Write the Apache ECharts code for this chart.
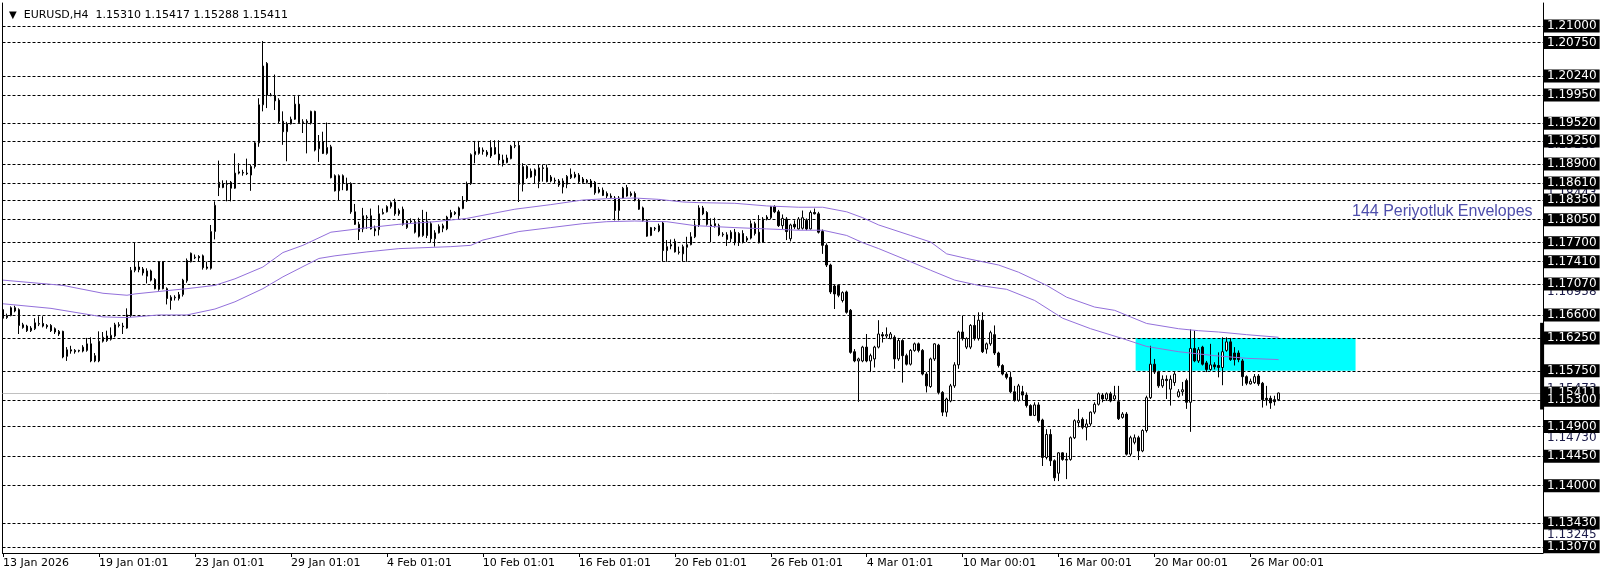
<!DOCTYPE html>
<html>
<head>
<meta charset="utf-8">
<script src="https://cdn.jsdelivr.net/npm/echarts@6/dist/echarts.min.js"></script>
<style>html,body{margin:0;padding:0;background:#fff}#c{width:1606px;height:577px}</style>
</head>
<body>
<div id="c"></div>
<script>
// ---- time axis labels (bar index of each label, every 24 H4 bars) ----
const tickIdx = [0,24,48,72,96,120,144,168,192,216,240,264,288,312];
const tickLabels = ['13 Jan 2026','19 Jan 01:01','23 Jan 01:01','29 Jan 01:01','4 Feb 01:01','10 Feb 01:01','16 Feb 01:01','20 Feb 01:01','26 Feb 01:01','4 Mar 01:01','10 Mar 00:01','16 Mar 00:01','20 Mar 00:01','26 Mar 00:01'];

// ---- EURUSD H4 candles (bar 0 .. 319) ----
const opens = [
1.1668,1.1656,1.1659,1.1671,1.1668,1.1645,1.1643,1.1636,1.1639,1.1646,
1.1647,1.1644,1.1644,1.1639,1.1631,1.1635,1.1597,1.1605,1.1606,1.1605,
1.1605,1.1606,1.1616,1.1590,1.1590,1.1620,1.1621,1.1623,1.1628,1.1645,
1.1643,1.1640,1.1659,1.1728,1.1733,1.1730,1.1719,1.1727,1.1714,1.1699,
1.1741,1.1700,1.1682,1.1686,1.1685,1.1691,1.1712,1.1741,1.1748,1.1749,
1.1750,1.1731,1.1731,1.1787,1.1862,1.1854,1.1860,1.1862,1.1853,1.1876,
1.1877,1.1876,1.1873,1.1886,1.1922,1.1980,1.2043,1.1995,1.1994,1.1987,
1.1955,1.1939,1.1951,1.1958,1.1981,1.1954,1.1955,1.1952,1.1970,1.1913,
1.1924,1.1906,1.1916,1.1872,1.1849,1.1872,1.1850,1.1860,1.1817,1.1798,
1.1791,1.1808,1.1811,1.1791,1.1790,1.1814,1.1817,1.1825,1.1832,1.1814,
1.1821,1.1793,1.1803,1.1802,1.1803,1.1781,1.1803,1.1799,1.1776,1.1785,
1.1792,1.1791,1.1809,1.1816,1.1811,1.1822,1.1834,1.1860,1.1904,1.1906,
1.1911,1.1908,1.1902,1.1915,1.1905,1.1896,1.1892,1.1898,1.1917,1.1918,
1.1859,1.1886,1.1870,1.1872,1.1863,1.1884,1.1884,1.1864,1.1865,1.1864,
1.1864,1.1859,1.1869,1.1874,1.1873,1.1867,1.1865,1.1864,1.1862,1.1847,
1.1850,1.1845,1.1841,1.1838,1.1819,1.1838,1.1854,1.1842,1.1845,1.1835,
1.1823,1.1804,1.1781,1.1791,1.1788,1.1800,1.1758,1.1765,1.1772,1.1755,
1.1753,1.1763,1.1767,1.1779,1.1797,1.1823,1.1816,1.1797,1.1799,1.1796,
1.1782,1.1782,1.1776,1.1786,1.1771,1.1784,1.1774,1.1777,1.1799,1.1786,
1.1771,1.1806,1.1808,1.1825,1.1817,1.1796,1.1806,1.1776,1.1798,1.1791,
1.1792,1.1804,1.1791,1.1816,1.1814,1.1787,1.1766,1.1736,1.1704,1.1705,
1.1682,1.1695,1.1667,1.1604,1.1590,1.1590,1.1611,1.1590,1.1593,1.1611,
1.1630,1.1628,1.1624,1.1626,1.1593,1.1621,1.1598,1.1585,1.1606,1.1616,
1.1606,1.1570,1.1551,1.1593,1.1614,1.1542,1.1512,1.1529,1.1552,1.1584,
1.1634,1.1611,1.1611,1.1644,1.1624,1.1652,1.1608,1.1616,1.1630,1.1602,
1.1583,1.1570,1.1565,1.1543,1.1530,1.1543,1.1538,1.1522,1.1507,1.1523,
1.1500,1.1443,1.1478,1.1438,1.1419,1.1450,1.1440,1.1440,1.1473,1.1496,
1.1501,1.1489,1.1494,1.1512,1.1524,1.1538,1.1532,1.1540,1.1532,1.1528,
1.1504,1.1509,1.1448,1.1466,1.1473,1.1453,1.1484,1.1534,1.1585,1.1573,
1.1552,1.1562,1.1547,1.1557,1.1536,1.1543,1.1560,1.1527,1.1609,1.1590,
1.1611,1.1587,1.1577,1.1584,1.1583,1.1580,1.1606,1.1619,1.1602,1.1602,
1.1590,1.1566,1.1555,1.1557,1.1567,1.1556,1.1533,1.1533,1.1531,1.15310
];
const closes = [
1.1655,1.1659,1.1671,1.1666,1.1644,1.1641,1.1636,1.1640,1.1648,1.1647,
1.1643,1.1642,1.1636,1.1634,1.1635,1.1596,1.1607,1.1607,1.1604,1.1606,
1.1611,1.1616,1.1590,1.1598,1.1620,1.1626,1.1628,1.1629,1.1645,1.1644,
1.1642,1.1660,1.1728,1.1733,1.1729,1.1724,1.1727,1.1713,1.1700,1.1741,
1.1700,1.1685,1.1687,1.1687,1.1691,1.1713,1.1743,1.1754,1.1747,1.1747,
1.1732,1.1733,1.1787,1.1827,1.1854,1.1860,1.1859,1.1853,1.1876,1.1878,
1.1876,1.1875,1.1886,1.1922,1.1980,1.2039,1.1995,1.1994,1.1986,1.1955,
1.1939,1.1951,1.1958,1.1981,1.1953,1.1953,1.1953,1.1970,1.1911,1.1924,
1.1906,1.1915,1.1869,1.1849,1.1872,1.1860,1.1860,1.1817,1.1798,1.1787,
1.1811,1.1809,1.1791,1.1788,1.1814,1.1816,1.1825,1.1831,1.1814,1.1819,
1.1798,1.1803,1.1802,1.1786,1.1780,1.1803,1.1781,1.1776,1.1785,1.1795,
1.1796,1.1809,1.1816,1.1814,1.1823,1.1834,1.1860,1.1904,1.1909,1.1915,
1.1909,1.1904,1.1915,1.1905,1.1896,1.1891,1.1899,1.1917,1.1918,1.1859,
1.1886,1.1869,1.1879,1.1881,1.1884,1.1883,1.1863,1.1870,1.1864,1.1858,
1.1855,1.1871,1.1874,1.1870,1.1863,1.1862,1.1862,1.1855,1.1846,1.1851,
1.1842,1.1841,1.1839,1.1819,1.1838,1.1853,1.1841,1.1845,1.1835,1.1821,
1.1804,1.1780,1.1793,1.1792,1.1796,1.1758,1.1764,1.1767,1.1756,1.1756,
1.1764,1.1767,1.1779,1.1797,1.1823,1.1814,1.1798,1.1795,1.1796,1.1782,
1.1783,1.1775,1.1786,1.1770,1.1784,1.1771,1.1777,1.1799,1.1784,1.1770,
1.1806,1.1809,1.1825,1.1817,1.1796,1.1807,1.1787,1.1797,1.1794,1.1806,
1.1808,1.1791,1.1816,1.1814,1.1786,1.1766,1.1736,1.1695,1.1692,1.1690,
1.1694,1.1664,1.1603,1.1590,1.1593,1.1611,1.1590,1.1598,1.1611,1.1631,
1.1628,1.1630,1.1631,1.1593,1.1621,1.1598,1.1585,1.1606,1.1616,1.1606,
1.1570,1.1552,1.1593,1.1616,1.1542,1.1512,1.1532,1.1552,1.1584,1.1634,
1.1624,1.1624,1.1644,1.1624,1.1652,1.1604,1.1616,1.1633,1.1602,1.1583,
1.1570,1.1565,1.1543,1.1530,1.1552,1.1538,1.1522,1.1507,1.1523,1.1499,
1.1443,1.1478,1.1438,1.1412,1.1450,1.1440,1.1439,1.1473,1.1499,1.1499,
1.1489,1.1494,1.1512,1.1524,1.1540,1.1532,1.1540,1.1529,1.1537,1.1502,
1.1509,1.1448,1.1473,1.1473,1.1453,1.1484,1.1534,1.1585,1.1573,1.1552,
1.1562,1.1560,1.1562,1.1570,1.1543,1.1546,1.1527,1.1609,1.1590,1.1607,
1.1585,1.1577,1.1584,1.1581,1.1580,1.1604,1.1619,1.1592,1.1592,1.1592,
1.1566,1.1556,1.1559,1.1566,1.1555,1.1531,1.1531,1.1526,1.1528,1.15411
];
const lows = [
1.1653,1.1654,1.1658,1.1664,1.1631,1.1639,1.1634,1.1634,1.1637,1.1643,
1.1641,1.1639,1.1634,1.1631,1.1628,1.1594,1.1590,1.1601,1.1601,1.1603,
1.1603,1.1604,1.1588,1.1588,1.1588,1.1618,1.1619,1.1621,1.1626,1.1641,
1.1631,1.1639,1.1657,1.1725,1.1725,1.1720,1.1708,1.1711,1.1699,1.1697,
1.1699,1.1676,1.1668,1.1682,1.1682,1.1688,1.1709,1.1740,1.1745,1.1741,
1.1729,1.1729,1.1729,1.1775,1.1841,1.1853,1.1833,1.1833,1.1852,1.1874,
1.1872,1.1873,1.1849,1.1883,1.1916,1.1970,1.1975,1.1993,1.1972,1.1952,
1.1919,1.1894,1.1950,1.1957,1.1952,1.1937,1.1906,1.1950,1.1909,1.1893,
1.1905,1.1904,1.1868,1.1848,1.1835,1.1850,1.1849,1.1814,1.1797,1.1774,
1.1786,1.1791,1.1790,1.1780,1.1781,1.1813,1.1816,1.1822,1.1811,1.1811,
1.1796,1.1791,1.1799,1.1784,1.1778,1.1779,1.1777,1.1770,1.1764,1.1784,
1.1786,1.1789,1.1807,1.1812,1.1806,1.1821,1.1832,1.1858,1.1891,1.1904,
1.1904,1.1901,1.1899,1.1904,1.1888,1.1886,1.1891,1.1897,1.1914,1.1832,
1.1848,1.1867,1.1869,1.1860,1.1853,1.1863,1.1862,1.1862,1.1860,1.1855,
1.1845,1.1853,1.1867,1.1868,1.1860,1.1860,1.1860,1.1854,1.1843,1.1845,
1.1841,1.1838,1.1837,1.1804,1.1804,1.1837,1.1840,1.1840,1.1833,1.1820,
1.1802,1.1779,1.1780,1.1788,1.1786,1.1741,1.1741,1.1760,1.1755,1.1752,
1.1741,1.1741,1.1766,1.1777,1.1794,1.1812,1.1796,1.1771,1.1793,1.1780,
1.1779,1.1765,1.1771,1.1766,1.1765,1.1769,1.1771,1.1775,1.1781,1.1769,
1.1770,1.1804,1.1806,1.1815,1.1794,1.1791,1.1774,1.1772,1.1791,1.1790,
1.1790,1.1789,1.1790,1.1813,1.1784,1.1753,1.1733,1.1692,1.1669,1.1687,
1.1679,1.1662,1.1601,1.1588,1.1528,1.1588,1.1588,1.1573,1.1580,1.1609,
1.1618,1.1624,1.1623,1.1578,1.1590,1.1557,1.1583,1.1583,1.1604,1.1603,
1.1568,1.1542,1.1549,1.1590,1.1539,1.1506,1.1505,1.1527,1.1549,1.1578,
1.1621,1.1608,1.1608,1.1621,1.1621,1.1602,1.1601,1.1613,1.1599,1.1580,
1.1568,1.1562,1.1541,1.1528,1.1528,1.1530,1.1519,1.1506,1.1506,1.1496,
1.1430,1.1440,1.1430,1.1407,1.1407,1.1438,1.1410,1.1438,1.1471,1.1489,
1.1486,1.1469,1.1491,1.1509,1.1522,1.1527,1.1529,1.1527,1.1529,1.1500,
1.1502,1.1446,1.1445,1.1463,1.1439,1.1451,1.1481,1.1532,1.1570,1.1549,
1.1549,1.1532,1.1522,1.1552,1.1534,1.1537,1.1517,1.1482,1.1588,1.1587,
1.1583,1.1573,1.1575,1.1577,1.1565,1.1553,1.1604,1.1590,1.1583,1.1588,
1.1552,1.1553,1.1554,1.1555,1.1552,1.1519,1.1522,1.1517,1.1522,1.15288
];
const highs = [
1.1672,1.1662,1.1673,1.1674,1.1670,1.1648,1.1645,1.1643,1.1655,1.1658,
1.1658,1.1646,1.1646,1.1641,1.1637,1.1636,1.1611,1.1613,1.1608,1.1607,
1.1614,1.1625,1.1626,1.1602,1.1635,1.1634,1.1636,1.1641,1.1648,1.1649,
1.1648,1.1670,1.1733,1.1770,1.1741,1.1733,1.1731,1.1729,1.1716,1.1742,
1.1742,1.1702,1.1690,1.1690,1.1695,1.1715,1.1746,1.1755,1.1752,1.1751,
1.1752,1.1741,1.1797,1.1833,1.1895,1.1865,1.1865,1.1864,1.1906,1.1891,
1.1881,1.1898,1.1889,1.1924,1.1990,1.2077,1.2045,1.1998,1.2026,1.1990,
1.1970,1.1954,1.1962,1.1993,1.1995,1.1958,1.1958,1.1971,1.1971,1.1934,
1.1939,1.1953,1.1919,1.1874,1.1874,1.1874,1.1869,1.1862,1.1829,1.1802,
1.1823,1.1812,1.1822,1.1796,1.1827,1.1822,1.1827,1.1833,1.1837,1.1822,
1.1825,1.1804,1.1807,1.1806,1.1808,1.1820,1.1817,1.1802,1.1789,1.1798,
1.1799,1.1811,1.1820,1.1818,1.1825,1.1841,1.1863,1.1906,1.1925,1.1925,
1.1915,1.1911,1.1926,1.1926,1.1926,1.1904,1.1904,1.1919,1.1924,1.1925,
1.1891,1.1888,1.1883,1.1883,1.1889,1.1889,1.1889,1.1873,1.1869,1.1867,
1.1868,1.1873,1.1883,1.1878,1.1876,1.1870,1.1867,1.1867,1.1864,1.1855,
1.1854,1.1848,1.1845,1.1841,1.1841,1.1855,1.1858,1.1848,1.1848,1.1837,
1.1825,1.1806,1.1794,1.1794,1.1799,1.1802,1.1774,1.1775,1.1776,1.1764,
1.1767,1.1779,1.1786,1.1804,1.1827,1.1826,1.1818,1.1807,1.1808,1.1799,
1.1786,1.1786,1.1789,1.1791,1.1786,1.1789,1.1780,1.1804,1.1802,1.1812,
1.1809,1.1812,1.1826,1.1827,1.1820,1.1813,1.1809,1.1799,1.1804,1.1809,
1.1819,1.1807,1.1819,1.1822,1.1817,1.1790,1.1769,1.1738,1.1706,1.1707,
1.1696,1.1697,1.1669,1.1608,1.1595,1.1613,1.1631,1.1601,1.1613,1.1652,
1.1634,1.1641,1.1634,1.1629,1.1625,1.1623,1.1601,1.1608,1.1618,1.1618,
1.1608,1.1573,1.1595,1.1617,1.1616,1.1544,1.1534,1.1555,1.1588,1.1636,
1.1659,1.1626,1.1646,1.1659,1.1664,1.1664,1.1618,1.1636,1.1644,1.1604,
1.1585,1.1573,1.1573,1.1552,1.1555,1.1552,1.1542,1.1524,1.1527,1.1527,
1.1502,1.1486,1.1486,1.1440,1.1451,1.1451,1.1450,1.1475,1.1501,1.1517,
1.1504,1.1501,1.1513,1.1527,1.1542,1.1541,1.1542,1.1543,1.1552,1.1552,
1.1512,1.1512,1.1476,1.1478,1.1476,1.1486,1.1537,1.1613,1.1593,1.1575,
1.1568,1.1568,1.1568,1.1573,1.1547,1.1558,1.1563,1.1638,1.1636,1.1611,
1.1613,1.1590,1.1616,1.1588,1.1603,1.1626,1.1626,1.1625,1.1611,1.1606,
1.1593,1.1568,1.1563,1.1570,1.1570,1.1558,1.1552,1.1537,1.1537,1.15417
];

// ---- 144-period Envelopes (read at selected bars) ----
const envUpperIdx = [0,15,25,31,33,41,46,53,58,65,70,75,82,90,99,108,116,128,137,145,151,158,164,170,174,183,191,199,205,211,215,219,227,232,236,241,249,254,261,266,273,278,282,286,294,299,304,311,319];
const envUpper = [1.1713,1.1705,1.1693,1.1690,1.1692,1.1697,1.1700,1.1705,1.1715,1.1733,1.1755,1.1766,1.1786,1.1792,1.1798,1.1802,1.1807,1.1821,1.1828,1.1835,1.1837,1.1838,1.1836,1.1832,1.1831,1.1830,1.1826,1.1824,1.1824,1.1817,1.1808,1.1797,1.1781,1.1771,1.1753,1.1746,1.1736,1.1725,1.1705,1.1687,1.1672,1.1667,1.1657,1.1647,1.1639,1.1636,1.1634,1.1630,1.1626];
const envLowerIdx = [0,12,25,31,39,46,53,58,65,70,79,83,91,99,112,117,120,129,137,145,151,158,166,173,183,191,199,205,211,215,219,227,232,238,244,251,258,265,272,280,286,294,303,311,319];
const envLower = [1.1677,1.1670,1.1657,1.1656,1.1660,1.1660,1.1669,1.1680,1.1700,1.1718,1.1746,1.1750,1.1756,1.1761,1.1764,1.1766,1.1774,1.1787,1.1793,1.1799,1.1802,1.1803,1.1802,1.1796,1.1793,1.1791,1.1789,1.1789,1.1781,1.1770,1.1761,1.1741,1.1728,1.1713,1.1705,1.1699,1.1682,1.1655,1.1639,1.1624,1.1612,1.1604,1.1598,1.1594,1.1592];

// ---- horizontal price levels, scale labels, bid, zone ----
const levels = [1.21000,1.20750,1.20240,1.19950,1.19520,1.19250,1.18900,1.18610,1.18350,1.18050,1.17700,1.17410,1.17070,1.16600,1.16250,1.15750,1.15300,1.14900,1.14450,1.14000,1.13430,1.13070];
const scaleLevels = [1.13245,1.13988,1.14730,1.15473,1.16215,1.16958,1.17700,1.18443,1.19185,1.19928];
const bidPrice = 1.15411;
const zoneBars = [283.25, 338.25];
const zonePrices = [1.15750, 1.16250];
const axisMarkBar = 384.9;
const axisMarkPrices = [1.1648, 1.1516];
const headerText = 'EURUSD,H4  1.15310 1.15417 1.15288 1.15411';
const envText = '144 Periyotluk Envelopes';

const X_MIN = -0.125, X_MAX = 385.125;
const Y_MIN = 1.12975, Y_MAX = 1.2135;
const PF = 'DejaVu Sans';

const chart = echarts.init(document.getElementById('c'), null, {renderer: 'canvas'});
const candleRows = opens.map((o, i) => [i, o, closes[i], lows[i], highs[i]]);
const upperPts = envUpperIdx.map((x, k) => [x, envUpper[k]]);
const lowerPts = envLowerIdx.map((x, k) => [x, envLower[k]]);
const axisMarkPts = axisMarkPrices.map(p => [axisMarkBar, p]);

const boxLabel = {
  show: true, position: 'end', distance: 1,
  formatter: p => Number(p.value).toFixed(5),
  color: '#fff', backgroundColor: '#000', padding: [1, 3, 0, 3],
  fontFamily: PF, fontSize: 12, lineHeight: 12
};

const option = {
  animation: false,
  backgroundColor: '#fff',
  title: [
    { text: '{t|▼}  ' + headerText, left: 4, top: 5,
      textStyle: { fontFamily: PF, fontSize: 11, fontWeight: 'normal', color: '#000',
        rich: { t: { fontSize: 10, fontFamily: PF, color: '#000' } } } },
    { text: envText, left: 1347, top: 199,
      textStyle: { fontFamily: 'Liberation Sans', fontSize: 16, fontWeight: 'normal', color: '#4d4dab' } }
  ],
  grid: { left: 2, right: 63, top: 3, bottom: 24, containLabel: false },
  xAxis: {
    type: 'value', min: X_MIN, max: X_MAX,
    axisLine: { show: true, onZero: false, lineStyle: { color: '#000', width: 1 } },
    axisTick: { show: true, customValues: tickIdx, length: 4, lineStyle: { color: '#000' } },
    axisLabel: { show: true, customValues: tickIdx, align: 'left', margin: 5,
      formatter: v => { const k = tickIdx.indexOf(Math.round(v)); return k >= 0 ? tickLabels[k] : ''; },
      fontFamily: PF, fontSize: 11, color: '#000' },
    splitLine: { show: false }
  },
  yAxis: [
    { type: 'value', position: 'right', min: Y_MIN, max: Y_MAX, scale: true,
      axisLine: { show: true, onZero: false, lineStyle: { color: '#000', width: 1 } },
      axisTick: { show: false }, axisLabel: { show: false }, splitLine: { show: false } },
    { type: 'value', position: 'left', min: Y_MIN, max: Y_MAX, scale: true,
      axisLine: { show: true, onZero: false, lineStyle: { color: '#000', width: 1 } },
      axisTick: { show: false }, axisLabel: { show: false }, splitLine: { show: false } }
  ],
  series: [
    { type: 'line', name: 'zone', data: [], z: 1, silent: true,
      markArea: { silent: true, z: 1, itemStyle: { color: '#00FFFF', opacity: 1 },
        data: [[ { xAxis: zoneBars[0], yAxis: zonePrices[1] }, { xAxis: zoneBars[1], yAxis: zonePrices[0] } ]] } },
    { type: 'line', name: 'scale', data: [], z: 1, silent: true,
      markLine: { silent: true, z: 1.6, precision: 5, symbol: ['none', 'none'],
        lineStyle: { color: 'rgba(255,255,255,0)', width: 1, type: 'solid' },
        label: { show: true, position: 'end', distance: 1, formatter: p => Number(p.value).toFixed(5),
          color: '#1a1a48', padding: [1, 3, 0, 3], fontFamily: PF, fontSize: 12, lineHeight: 12 },
        emphasis: { disabled: true },
        data: scaleLevels.map(v => ({ yAxis: v })) } },
    { type: 'line', name: 'bid', data: [], z: 1, silent: true,
      markLine: { silent: true, z: 1.65, precision: 5, symbol: ['none', 'none'],
        lineStyle: { type: 'solid', color: '#C0C0C0', width: 1 },
        label: boxLabel, emphasis: { disabled: true },
        data: [{ yAxis: bidPrice }] } },
    { type: 'line', name: 'levels', data: [], z: 1, silent: true,
      markLine: { silent: true, z: 1.7, precision: 5, symbol: ['none', 'none'],
        lineStyle: { type: [3, 2], color: '#000', width: 1 },
        label: boxLabel, emphasis: { disabled: true },
        data: levels.map(v => ({ yAxis: v })) } },
    { type: 'candlestick', name: 'EURUSD', data: candleRows, z: 3, barWidth: 2,
      itemStyle: { color: '#fff', color0: '#000', borderColor: '#000', borderColor0: '#000', borderWidth: 1 },
      emphasis: { disabled: true } },
    { type: 'line', name: 'envUpper', data: upperPts, z: 4, symbol: 'none', silent: true,
      lineStyle: { color: '#9370DB', width: 1 } },
    { type: 'line', name: 'envLower', data: lowerPts, z: 4, symbol: 'none', silent: true,
      lineStyle: { color: '#9370DB', width: 1 } },
    { type: 'line', name: 'axisMark', data: axisMarkPts, z: 10, symbol: 'none', showSymbol: false,
      silent: true, clip: false, lineStyle: { color: '#000', width: 4, cap: 'butt' } }
  ]
};
chart.setOption(option);
</script>
</body>
</html>
